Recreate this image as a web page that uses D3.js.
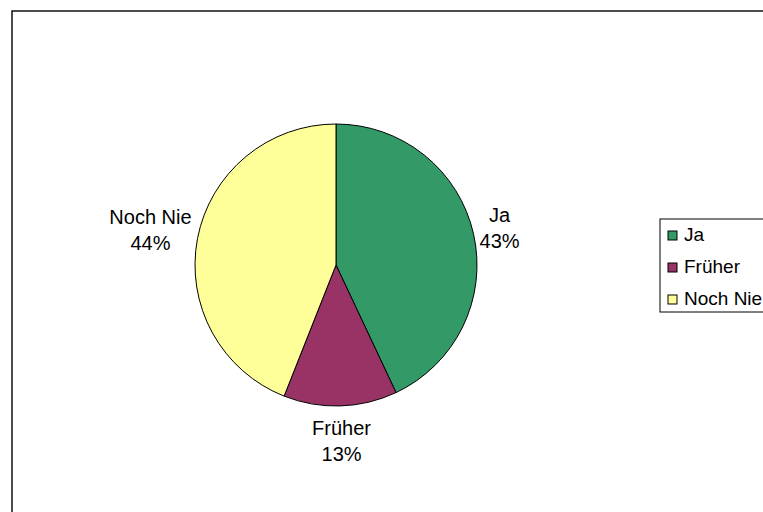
<!DOCTYPE html>
<html>
<head>
<meta charset="utf-8">
<script src="https://cdn.jsdelivr.net/npm/d3@7"></script>
<style>
  html, body { margin: 0; padding: 0; background: #fff; }
  svg { display: block; }
  text { font-family: "Liberation Sans", Arial, sans-serif; fill: #000; }
</style>
</head>
<body>
<svg id="chart" width="763" height="512"></svg>
<script>
// Antworten und Anteile in Prozent
const categories = ["Ja", "Früher", "Noch Nie"];
const values = [43, 13, 44];
const colors = ["#339966", "#993366", "#FFFF99"];

const svg = d3.select("#chart");
const W = 763, H = 512;

// Diagrammrahmen (rechts und unten abgeschnitten)
svg.append("rect")
  .attr("x", 12).attr("y", 11)
  .attr("width", W + 20).attr("height", H + 20)
  .attr("fill", "#fff").attr("stroke", "#000").attr("stroke-width", 1.4);

const cx = 336, cy = 265, r = 141;

const pie = d3.pie().sort(null).value(d => d.value);
const data = categories.map((c, i) => ({ name: c, value: values[i], color: colors[i] }));
const arcs = pie(data);
const arc = d3.arc().innerRadius(0).outerRadius(r);

const g = svg.append("g").attr("transform", `translate(${cx},${cy})`);
g.selectAll("path.slice")
  .data(arcs)
  .join("path")
  .attr("class", "slice")
  .attr("d", arc)
  .attr("fill", d => d.data.color)
  .attr("stroke", "#000")
  .attr("stroke-width", 1);

// Beschriftungen ausserhalb des Kreises: das Textfeld wird entlang
// der Winkelhalbierenden so weit hinausgeschoben, dass es den Kreis nicht beruehrt
const gap = 6;
const labels = g.selectAll("g.lbl")
  .data(arcs)
  .join("g")
  .attr("class", "lbl");
labels.append("text")
  .attr("text-anchor", "middle")
  .attr("y", -6)
  .style("font-size", "20px")
  .text(d => d.data.name);
labels.append("text")
  .attr("text-anchor", "middle")
  .attr("y", 20)
  .style("font-size", "20px")
  .text(d => d.data.value + "%");
labels.each(function(d) {
  const bb = this.getBBox();
  const hw = bb.width / 2;
  const hh = 29;
  const a = (d.startAngle + d.endAngle) / 2;
  const s = Math.abs(Math.sin(a)), c = Math.abs(Math.cos(a));
  const ext = Math.min(s > 1e-6 ? hw / s : Infinity, c > 1e-6 ? hh / c : Infinity);
  const dist = r + gap + ext;
  d3.select(this).attr("transform",
    `translate(${dist * Math.sin(a)},${-dist * Math.cos(a)})`);
});

// Legende
const lg = svg.append("g");
lg.append("rect")
  .attr("x", 660).attr("y", 219)
  .attr("width", 130).attr("height", 93)
  .attr("fill", "#fff").attr("stroke", "#000").attr("stroke-width", 1);
const items = lg.selectAll("g.item")
  .data(data)
  .join("g")
  .attr("class", "item")
  .attr("transform", (d, i) => `translate(668,${231 + i * 32})`);
items.append("rect")
  .attr("width", 9).attr("height", 9)
  .attr("fill", d => d.color)
  .attr("stroke", "#000").attr("stroke-width", 1);
items.append("text")
  .attr("x", 16).attr("y", 9.5)
  .style("font-size", "19px")
  .text(d => d.name);
</script>
</body>
</html>
